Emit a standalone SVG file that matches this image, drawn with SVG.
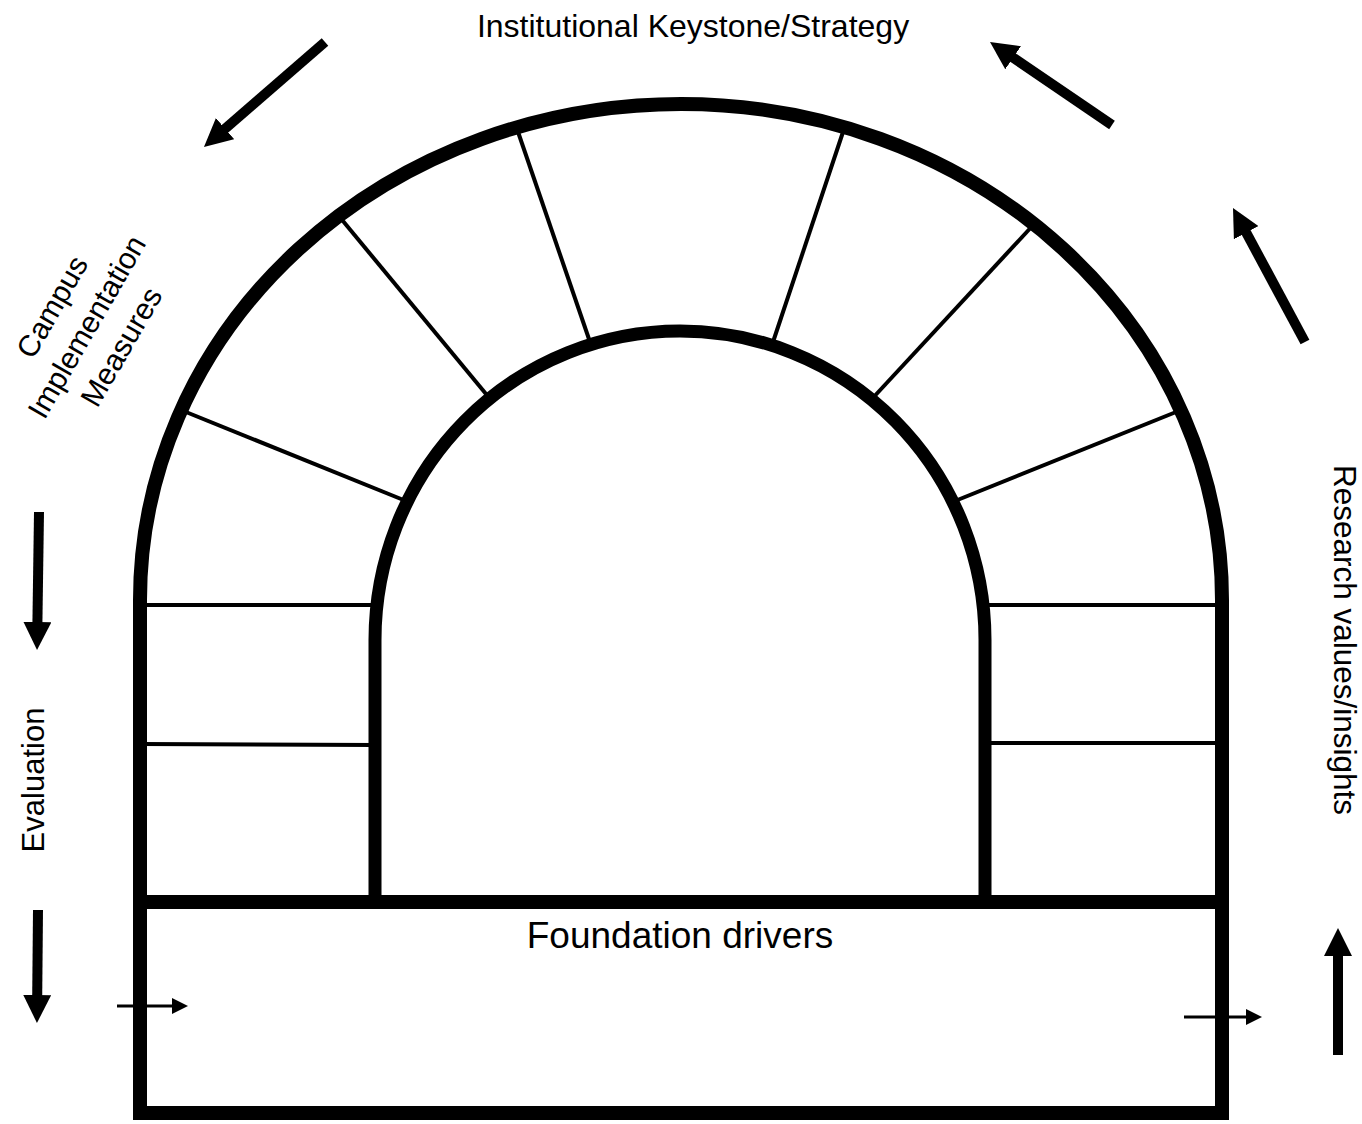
<svg xmlns="http://www.w3.org/2000/svg" width="1362" height="1124" viewBox="0 0 1362 1124">
<style>
.thick{fill:none;stroke:#000;stroke-width:14}
.mid{fill:none;stroke:#000;stroke-width:13}
.thin{fill:none;stroke:#000;stroke-width:4}
.arr{fill:none;stroke:#000;stroke-width:10}
.sarr{fill:none;stroke:#000;stroke-width:3}
text{font-family:"Liberation Sans",Arial,sans-serif;fill:#000}
</style>
<defs>
<marker id="bigHead" markerUnits="userSpaceOnUse" markerWidth="28" markerHeight="28" refX="2" refY="14" orient="auto" viewBox="0 0 28 28">
<path d="M0,0 L28,14 L0,28 z" fill="#000"/>
</marker>
<marker id="smallHead" markerUnits="userSpaceOnUse" markerWidth="16" markerHeight="16" refX="1" refY="8" orient="auto" viewBox="0 0 16 16">
<path d="M0,0 L16,8 L0,16 z" fill="#000"/>
</marker>
</defs>
<rect width="1362" height="1124" fill="#fff"/>
<g id="arch">
<path class="thick" d="M140,902 L140,600 A541,496 0 0 1 1222,600 L1222,902"/>
<path class="mid" d="M375,898 L375,640 A305,309 0 0 1 985,640 L985,898"/>
</g>
<g id="foundation">
<rect class="thick" x="140" y="902" width="1082" height="211"/>
<text x="680" y="948" font-size="37" text-anchor="middle">Foundation drivers</text>
</g>
<g id="voussoirs">
<line class="thin" x1="140" y1="605" x2="375" y2="605"/>
<line class="thin" x1="140" y1="744" x2="375" y2="745"/>
<line class="thin" x1="181" y1="410" x2="406" y2="501"/>
<line class="thin" x1="338" y1="215" x2="491" y2="400"/>
<line class="thin" x1="516" y1="126" x2="590" y2="342"/>
<line class="thin" x1="845" y1="126" x2="773" y2="342"/>
<line class="thin" x1="1036" y1="222" x2="870" y2="401"/>
<line class="thin" x1="1181" y1="410" x2="955" y2="501"/>
<line class="thin" x1="985" y1="605" x2="1222" y2="605"/>
<line class="thin" x1="985" y1="743" x2="1222" y2="743"/>
</g>
<g id="labels">
<text x="693" y="37" font-size="32" text-anchor="middle">Institutional Keystone/Strategy</text>
<g transform="translate(87,327) rotate(-60)" font-size="30">
<text x="0" y="-30" text-anchor="middle">Campus</text>
<text x="0" y="10" text-anchor="middle">Implementation</text>
<text x="0" y="50" text-anchor="middle">Measures</text>
</g>
<text transform="translate(44,780) rotate(-90)" font-size="31" text-anchor="middle">Evaluation</text>
<text transform="translate(1334,640) rotate(90)" font-size="31.5" text-anchor="middle">Research values/insights</text>
</g>
<g id="connectors">
<line class="arr" x1="325" y1="42" x2="223.6" y2="130" marker-end="url(#bigHead)"/>
<line class="arr" x1="1112" y1="125" x2="1011.5" y2="56.6" marker-end="url(#bigHead)"/>
<line class="arr" x1="1305" y1="342" x2="1245.3" y2="230.9" marker-end="url(#bigHead)"/>
<line class="arr" x1="39" y1="512" x2="37.4" y2="624" marker-end="url(#bigHead)"/>
<line class="arr" x1="38" y1="910" x2="37.2" y2="997" marker-end="url(#bigHead)"/>
<line class="arr" x1="1338" y1="1055" x2="1338" y2="954" marker-end="url(#bigHead)"/>
<line class="sarr" x1="117" y1="1006" x2="173" y2="1006" marker-end="url(#smallHead)"/>
<line class="sarr" x1="1184" y1="1017" x2="1247" y2="1017" marker-end="url(#smallHead)"/>
</g>
</svg>
